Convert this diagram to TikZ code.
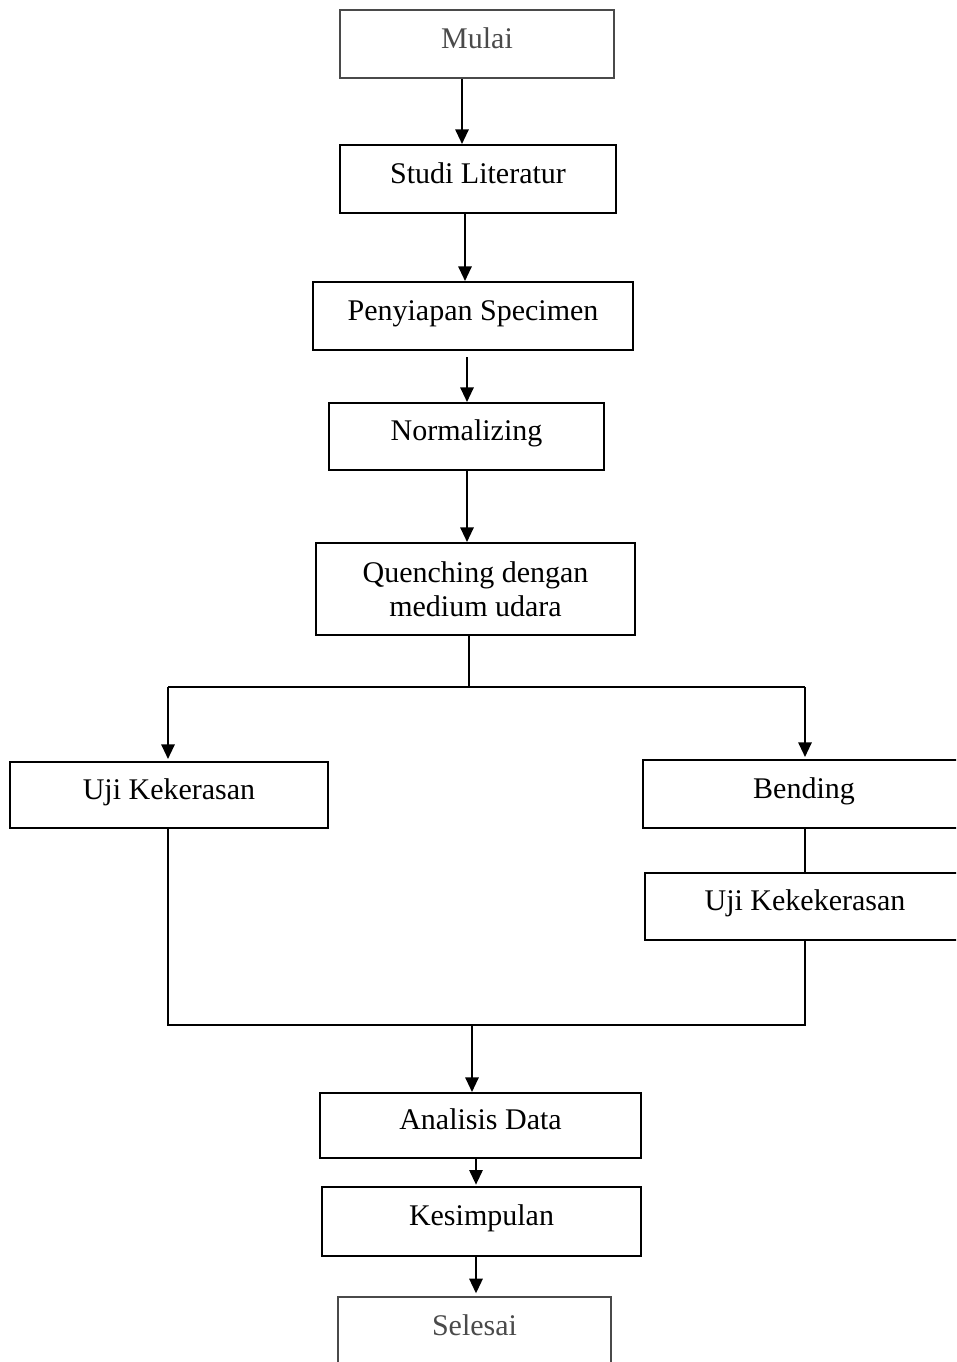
\documentclass[tikz,border=0pt]{standalone}
\usepackage{fontspec}
\setmainfont{Liberation Serif}
\usetikzlibrary{arrows.meta}
\definecolor{pale}{HTML}{4A4A4A}
\begin{document}
\begin{tikzpicture}[x=0.75pt,y=-0.75pt,
  box/.style={draw=black,line width=1.5pt,rectangle,inner sep=0pt,align=center,
     font=\fontsize{22.5}{25.5}\selectfont},
  onebox/.style={box,text height=15pt,text depth=8.5pt},
  palebox/.style={onebox,draw=pale,text=pale},
  conn/.style={line width=1.5pt,black},
  arr/.style={conn,-{Triangle[length=11pt,width=10pt]}}]
\useasboundingbox (0,0) rectangle (956,1362);
\begin{scope}
\clip (0,0) rectangle (956,1362);
\node[palebox,minimum width=274*0.75pt,minimum height=68*0.75pt] (mulai) at (477,44) {Mulai};
\node[onebox,minimum width=276*0.75pt,minimum height=68*0.75pt] (studi) at (478,179) {Studi Literatur};
\node[onebox,minimum width=320*0.75pt,minimum height=68*0.75pt] (siap) at (473,316) {Penyiapan Specimen};
\node[onebox,minimum width=275*0.75pt,minimum height=67*0.75pt] (norm) at (466.5,436.5) {Normalizing};
\node[box,minimum width=319*0.75pt,minimum height=92*0.75pt] (quench) at (475.5,589) {Quenching dengan\\medium udara};
\node[onebox,minimum width=318*0.75pt,minimum height=66*0.75pt] (ujik) at (169,795) {Uji Kekerasan};
\node[onebox,minimum width=322*0.75pt,minimum height=68*0.75pt] (bend) at (804,794) {Bending};
\node[onebox,minimum width=320*0.75pt,minimum height=67*0.75pt] (ujikk) at (805,906.5) {Uji Kekekerasan};
\node[onebox,minimum width=321*0.75pt,minimum height=65*0.75pt] (anal) at (480.5,1125.5) {Analisis Data};
\node[onebox,minimum width=319*0.75pt,minimum height=69*0.75pt] (kes) at (481.5,1221.5) {Kesimpulan};
\node[palebox,minimum width=273*0.75pt,minimum height=68*0.75pt] (sel) at (474.5,1331) {Selesai};

\coordinate (c1) at (462,0);
\coordinate (c2) at (465,0);
\coordinate (c3) at (467,0);
\coordinate (c4) at (469,0);
\coordinate (cl) at (168,0);
\coordinate (cr) at (805,0);
\coordinate (c5) at (472,0);
\coordinate (c6) at (476,0);
\coordinate (j1) at (469,687);
\coordinate (j2) at (472,1025);
\coordinate (p1) at (467,357);

\draw[arr] (c1 |- mulai.south) -- (c1 |- studi.north);
\draw[arr] (c2 |- studi.south) -- (c2 |- siap.north);
\draw[arr] (p1) -- (p1 |- norm.north);
\draw[arr] (c3 |- norm.south) -- (c3 |- quench.north);
\draw[conn] (c4 |- quench.south) -- (j1);
\draw[conn] (j1 -| cl) -- (j1 -| cr);
\draw[arr] (j1 -| cl) -- ([yshift=1.5pt]cl |- ujik.north);
\draw[arr] (j1 -| cr) -- ([yshift=1.5pt]cr |- bend.north);
\draw[conn] (cr |- bend.south) -- (cr |- ujikk.north);
\draw[conn] (cr |- ujikk.south) -- (j2 -| cr) -- (j2 -| cl) -- (cl |- ujik.south);
\draw[arr] (j2) -- (c5 |- anal.north);
\draw[arr] (c6 |- anal.south) -- ([yshift=1pt]c6 |- kes.north);
\draw[arr] (c6 |- kes.south) -- ([yshift=2pt]c6 |- sel.north);
\end{scope}
\end{tikzpicture}
\end{document}
